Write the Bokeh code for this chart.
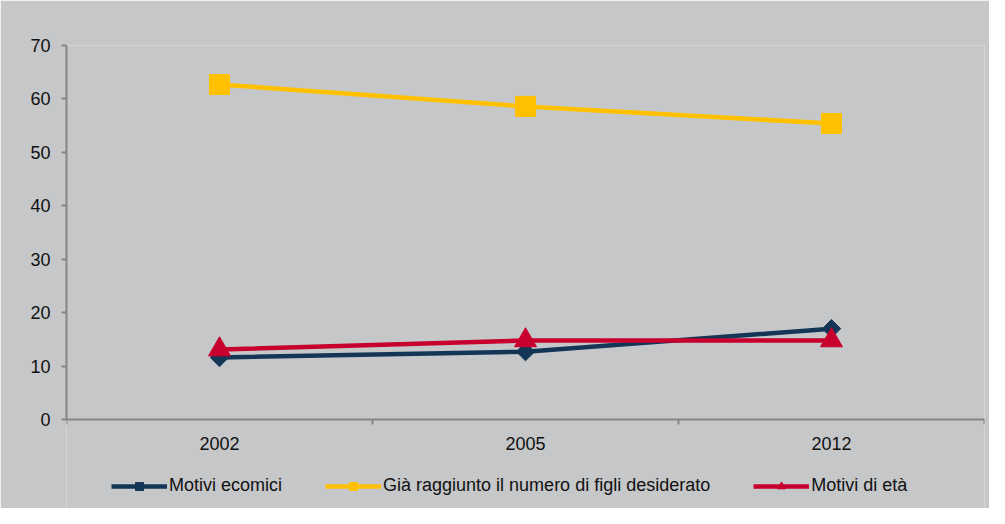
from math import pi
from bokeh.plotting import figure
from bokeh.models import Range1d, FixedTicker, Legend, LegendItem, ColumnDataSource
from bokeh.embed import file_html
from bokeh.resources import INLINE

years = ["2002", "2005", "2012"]
motivi_economici = [11.6, 12.7, 17.0]
gia_raggiunto = [62.7, 58.6, 55.4]
motivi_eta = [13.1, 14.8, 14.8]
labels = ["Motivi ecomici", "Già raggiunto il numero di figli desiderato", "Motivi di età"]
y_ticks = [0, 10, 20, 30, 40, 50, 60, 70]

BG = "#c6c7c9"
FONT = "Liberation Sans"
AX = "#868686"
xs = [i + 0.5 for i in range(len(years))]

# layout (pixels): plot area 374px tall for 0..70, plus 89px below it for labels and legend
Y_MAX = 70
AREA_H = 374
BELOW_H = 89
y_min = -Y_MAX * BELOW_H / AREA_H

p = figure(width=989, height=508, output_backend="svg", toolbar_location=None,
           x_range=Range1d(0, len(years)), y_range=Range1d(y_min, Y_MAX),
           min_border_left=66, min_border_right=5, min_border_top=45, min_border_bottom=0)
p.background_fill_color = BG
p.border_fill_color = BG
p.outline_line_color = None
p.xgrid.visible = False
p.ygrid.visible = False

# x axis, placed at y = 0
xa = p.xaxis[0]
xa.fixed_location = 0
xa.ticker = FixedTicker(ticks=xs, minor_ticks=list(range(len(years) + 1)))
xa.major_label_overrides = {x: y for x, y in zip(xs, years)}
xa.major_tick_out = 0
xa.major_tick_in = 0
xa.minor_tick_out = 5
xa.minor_tick_in = 0
xa.major_label_standoff = 12

# y axis
ya = p.yaxis[0]
ya.bounds = (0, Y_MAX)
ya.ticker = FixedTicker(ticks=y_ticks)
ya.major_tick_out = 5
ya.major_tick_in = 0
ya.major_label_standoff = 11

for ax in (xa, ya):
    ax.axis_line_color = AX
    ax.axis_line_width = 2
    ax.major_tick_line_color = AX
    ax.major_tick_line_width = 2
    ax.minor_tick_line_width = 2
    ax.major_label_text_font = FONT
    ax.major_label_text_font_size = "18px"
    ax.major_label_text_color = "#111111"
xa.minor_tick_line_color = AX
ya.minor_tick_line_color = None

src = ColumnDataSource(dict(x=xs, a=motivi_economici, b=gia_raggiunto, c=motivi_eta))

NAVY = "#143656"
YEL = "#ffc000"
RED = "#c8002d"

l1 = p.line("x", "a", source=src, line_color=NAVY, line_width=4.5)
m1 = p.scatter("x", "a", source=src, marker="square", angle=pi / 4, size=13,
               fill_color=NAVY, line_color=NAVY)
l2 = p.line("x", "b", source=src, line_color=YEL, line_width=4.5)
m2 = p.scatter("x", "b", source=src, marker="square", size=20,
               fill_color=YEL, line_color=YEL)
l3 = p.line("x", "c", source=src, line_color=RED, line_width=4.5)
m3 = p.scatter("x", "c", source=src, marker="triangle", size=22,
               fill_color=RED, line_color=RED)

legend = Legend(items=[LegendItem(label=labels[0], renderers=[l1, m1]),
                       LegendItem(label=labels[1], renderers=[l2, m2]),
                       LegendItem(label=labels[2], renderers=[l3, m3])],
                orientation="horizontal", location=(45, 12),
                glyph_width=56, glyph_height=20, label_standoff=2, spacing=43,
                padding=0, margin=0,
                label_text_font=FONT, label_text_font_size="18px",
                label_text_color="#111111",
                background_fill_alpha=0, border_line_color=None)
p.add_layout(legend, "center")

open("out.html", "w").write(file_html(p, INLINE))
